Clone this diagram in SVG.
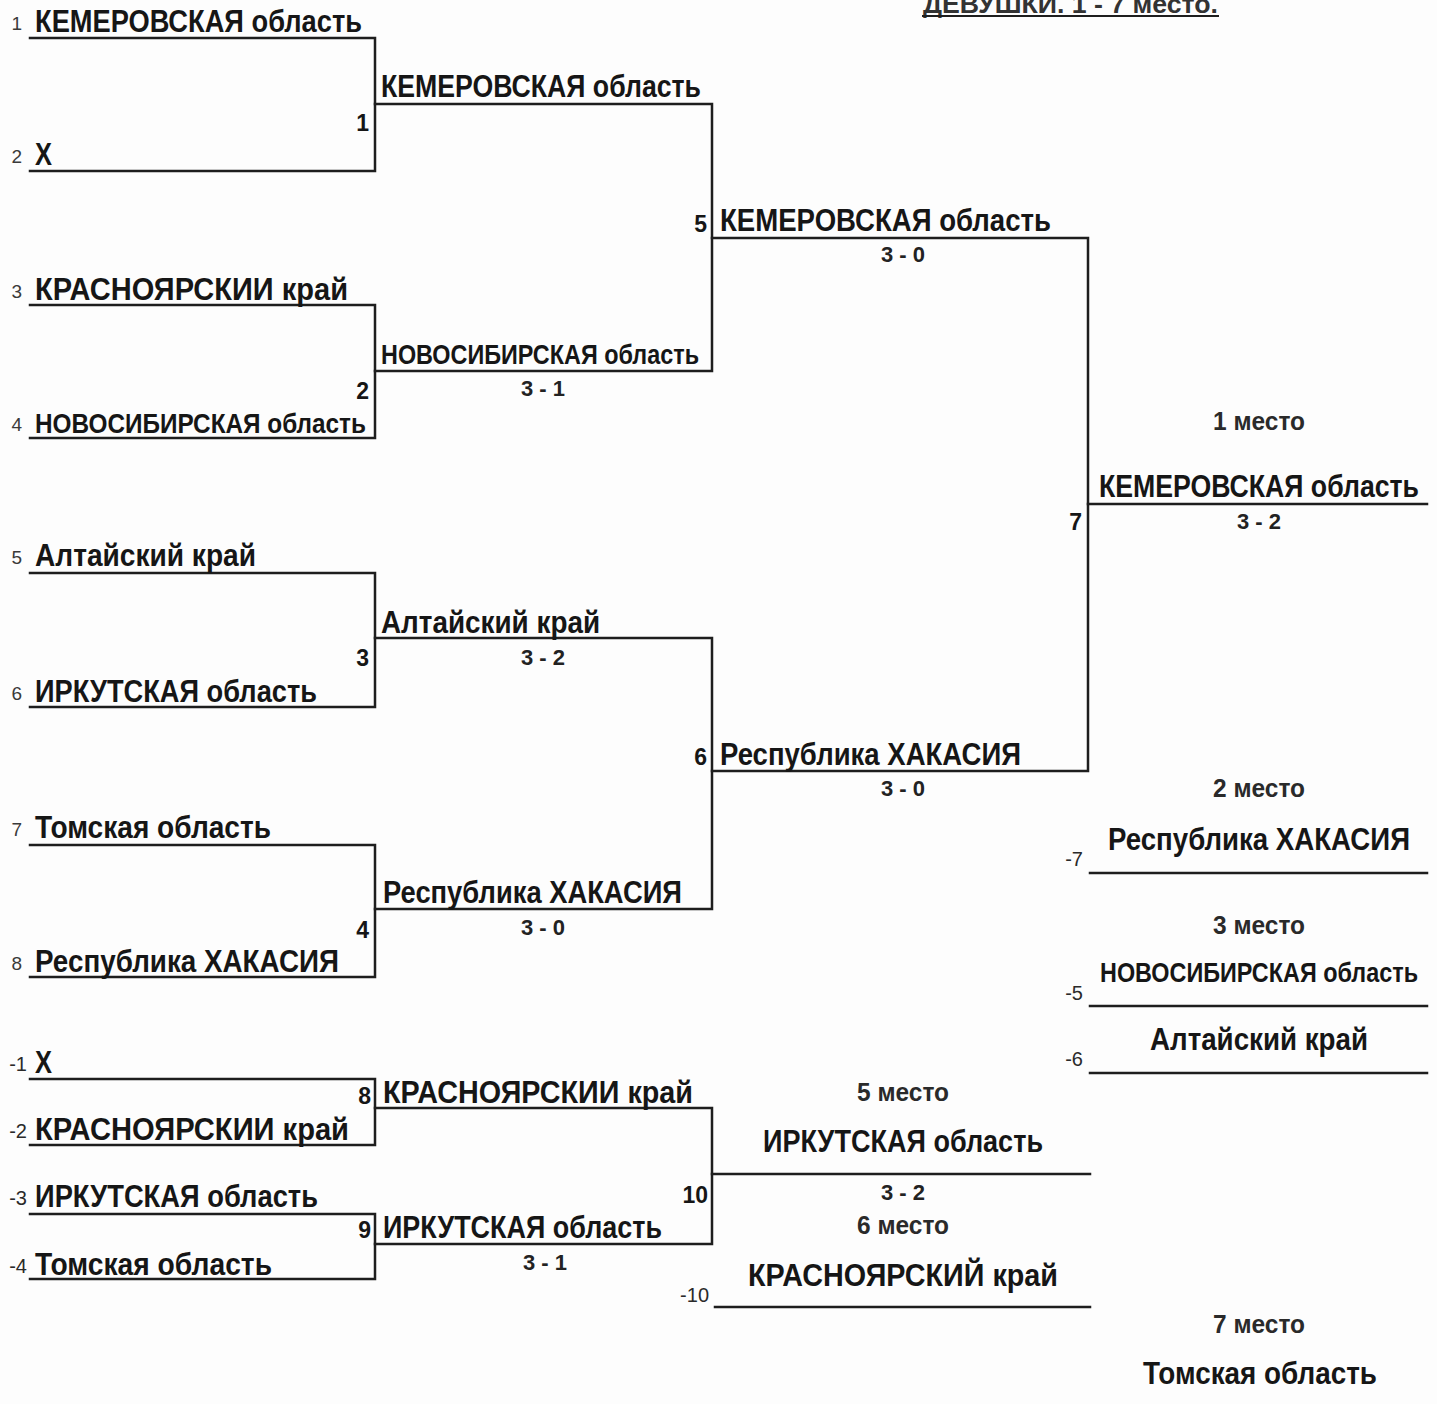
<svg xmlns="http://www.w3.org/2000/svg" width="1437" height="1404" viewBox="0 0 1437 1404">
<style>
.bg{fill:#fdfdfd}
.ln{stroke:#1e1e1e;stroke-width:2.5;fill:none;stroke-linecap:square}
.t{font-family:"Liberation Sans",Arial,sans-serif;font-weight:bold;font-size:31px;fill:#161616}
.ts{font-family:"Liberation Sans",Arial,sans-serif;font-weight:bold;font-size:28px;fill:#161616}
.seed{font-family:"Liberation Sans",Arial,sans-serif;font-size:19px;fill:#3a3a3a;text-anchor:end}
.neg{font-family:"Liberation Sans",Arial,sans-serif;font-size:20px;fill:#2a2a2a;text-anchor:end}
.m{font-family:"Liberation Sans",Arial,sans-serif;font-weight:bold;font-size:23px;fill:#161616;text-anchor:end}
.sc{font-family:"Liberation Sans",Arial,sans-serif;font-weight:bold;font-size:22px;fill:#222;text-anchor:middle}
.pl{font-family:"Liberation Sans",Arial,sans-serif;font-weight:bold;font-size:26px;fill:#2a2a2a;text-anchor:middle}
.title{font-family:"Liberation Sans",Arial,sans-serif;font-weight:bold;font-size:25px;fill:#333}
</style>
<rect class="bg" x="0" y="0" width="1437" height="1404"/>

<g id="title">
<text class="title" x="923" y="13" textLength="295" lengthAdjust="spacingAndGlyphs">ДЕВУШКИ. 1 - 7 место.</text>
<line class="ln" x1="923" y1="16" x2="1218" y2="16" style="stroke-width:2"/>
</g>

<g id="connectors">
<polyline class="ln" points="30,38 375,38 375,171 30,171"/>
<polyline class="ln" points="30,305 375,305 375,438 30,438"/>
<polyline class="ln" points="30,573 375,573 375,707 30,707"/>
<polyline class="ln" points="30,845 375,845 375,977 30,977"/>
<polyline class="ln" points="375,104 712,104 712,371 375,371"/>
<polyline class="ln" points="375,638 712,638 712,909 375,909"/>
<polyline class="ln" points="712,238 1088,238 1088,771 712,771"/>
<line class="ln" x1="1088" y1="504" x2="1427" y2="504"/>
<line class="ln" x1="1090" y1="873" x2="1427" y2="873"/>
<line class="ln" x1="1090" y1="1006" x2="1427" y2="1006"/>
<line class="ln" x1="1090" y1="1073" x2="1427" y2="1073"/>
<polyline class="ln" points="30,1079 375,1079 375,1145 30,1145"/>
<polyline class="ln" points="30,1214 375,1214 375,1279 30,1279"/>
<polyline class="ln" points="375,1108 712,1108 712,1244 375,1244"/>
<line class="ln" x1="712" y1="1174" x2="1090" y2="1174"/>
<line class="ln" x1="715" y1="1307" x2="1090" y2="1307"/>
</g>

<g id="r1">
<text class="seed" x="22" y="30">1</text><text class="t" x="35" y="32" textLength="327" lengthAdjust="spacingAndGlyphs">КЕМЕРОВСКАЯ область</text>
<text class="seed" x="22" y="163">2</text><text class="t" x="35" y="165" textLength="17" lengthAdjust="spacingAndGlyphs">X</text>
<text class="seed" x="22" y="298">3</text><text class="t" x="35" y="300" textLength="313" lengthAdjust="spacingAndGlyphs">КРАСНОЯРСКИИ край</text>
<text class="seed" x="22" y="431">4</text><text class="ts" x="35" y="433" textLength="331" lengthAdjust="spacingAndGlyphs">НОВОСИБИРСКАЯ область</text>
<text class="seed" x="22" y="564">5</text><text class="t" x="35" y="566" textLength="221" lengthAdjust="spacingAndGlyphs">Алтайский край</text>
<text class="seed" x="22" y="700">6</text><text class="t" x="35" y="702" textLength="282" lengthAdjust="spacingAndGlyphs">ИРКУТСКАЯ область</text>
<text class="seed" x="22" y="836">7</text><text class="t" x="35" y="838" textLength="236" lengthAdjust="spacingAndGlyphs">Томская область</text>
<text class="seed" x="22" y="970">8</text><text class="t" x="35" y="972" textLength="304" lengthAdjust="spacingAndGlyphs">Республика ХАКАСИЯ</text>
</g>

<g id="r2">
<text class="m" x="369" y="131">1</text>
<text class="t" x="381" y="97" textLength="320" lengthAdjust="spacingAndGlyphs">КЕМЕРОВСКАЯ область</text>
<text class="m" x="369" y="399">2</text>
<text class="ts" x="381" y="364" textLength="318" lengthAdjust="spacingAndGlyphs">НОВОСИБИРСКАЯ область</text>
<text class="sc" x="543" y="396" textLength="44" lengthAdjust="spacingAndGlyphs">3 - 1</text>
<text class="m" x="369" y="666">3</text>
<text class="t" x="381" y="633" textLength="219" lengthAdjust="spacingAndGlyphs">Алтайский край</text>
<text class="sc" x="543" y="665" textLength="44" lengthAdjust="spacingAndGlyphs">3 - 2</text>
<text class="m" x="369" y="938">4</text>
<text class="t" x="383" y="903" textLength="299" lengthAdjust="spacingAndGlyphs">Республика ХАКАСИЯ</text>
<text class="sc" x="543" y="935" textLength="44" lengthAdjust="spacingAndGlyphs">3 - 0</text>
</g>

<g id="r3">
<text class="m" x="707" y="232">5</text>
<text class="t" x="720" y="231" textLength="331" lengthAdjust="spacingAndGlyphs">КЕМЕРОВСКАЯ область</text>
<text class="sc" x="903" y="262" textLength="44" lengthAdjust="spacingAndGlyphs">3 - 0</text>
<text class="m" x="707" y="765">6</text>
<text class="t" x="720" y="765" textLength="301" lengthAdjust="spacingAndGlyphs">Республика ХАКАСИЯ</text>
<text class="sc" x="903" y="796" textLength="44" lengthAdjust="spacingAndGlyphs">3 - 0</text>
</g>

<g id="final">
<text class="pl" x="1259" y="430" textLength="92" lengthAdjust="spacingAndGlyphs">1 место</text>
<text class="m" x="1082" y="530">7</text>
<text class="t" x="1099" y="497" textLength="320" lengthAdjust="spacingAndGlyphs">КЕМЕРОВСКАЯ область</text>
<text class="sc" x="1259" y="529" textLength="44" lengthAdjust="spacingAndGlyphs">3 - 2</text>
</g>

<g id="places">
<text class="pl" x="1259" y="797" textLength="92" lengthAdjust="spacingAndGlyphs">2 место</text>
<text class="neg" x="1083" y="866">-7</text>
<text class="t" x="1108" y="850" textLength="302" lengthAdjust="spacingAndGlyphs">Республика ХАКАСИЯ</text>
<text class="pl" x="1259" y="934" textLength="92" lengthAdjust="spacingAndGlyphs">3 место</text>
<text class="neg" x="1083" y="1000">-5</text>
<text class="ts" x="1100" y="982" textLength="318" lengthAdjust="spacingAndGlyphs">НОВОСИБИРСКАЯ область</text>
<text class="neg" x="1083" y="1066">-6</text>
<text class="t" x="1150" y="1050" textLength="218" lengthAdjust="spacingAndGlyphs">Алтайский край</text>
<text class="pl" x="1259" y="1333" textLength="92" lengthAdjust="spacingAndGlyphs">7 место</text>
<text class="t" x="1143" y="1384" textLength="234" lengthAdjust="spacingAndGlyphs">Томская область</text>
</g>

<g id="lower">
<text class="neg" x="27" y="1071">-1</text><text class="t" x="35" y="1073" textLength="17" lengthAdjust="spacingAndGlyphs">X</text>
<text class="neg" x="27" y="1138">-2</text><text class="t" x="35" y="1140" textLength="314" lengthAdjust="spacingAndGlyphs">КРАСНОЯРСКИИ край</text>
<text class="neg" x="27" y="1205">-3</text><text class="t" x="35" y="1207" textLength="283" lengthAdjust="spacingAndGlyphs">ИРКУТСКАЯ область</text>
<text class="neg" x="27" y="1273">-4</text><text class="t" x="35" y="1275" textLength="237" lengthAdjust="spacingAndGlyphs">Томская область</text>
<text class="m" x="371" y="1104">8</text>
<text class="t" x="383" y="1103" textLength="310" lengthAdjust="spacingAndGlyphs">КРАСНОЯРСКИИ край</text>
<text class="m" x="371" y="1238">9</text>
<text class="t" x="383" y="1238" textLength="279" lengthAdjust="spacingAndGlyphs">ИРКУТСКАЯ область</text>
<text class="sc" x="545" y="1270" textLength="44" lengthAdjust="spacingAndGlyphs">3 - 1</text>
<text class="m" x="708" y="1203">10</text>
<text class="pl" x="903" y="1101" textLength="92" lengthAdjust="spacingAndGlyphs">5 место</text>
<text class="t" x="763" y="1152" textLength="280" lengthAdjust="spacingAndGlyphs">ИРКУТСКАЯ область</text>
<text class="sc" x="903" y="1200" textLength="44" lengthAdjust="spacingAndGlyphs">3 - 2</text>
<text class="pl" x="903" y="1234" textLength="92" lengthAdjust="spacingAndGlyphs">6 место</text>
<text class="neg" x="709" y="1302">-10</text>
<text class="t" x="748" y="1286" textLength="310" lengthAdjust="spacingAndGlyphs">КРАСНОЯРСКИЙ край</text>
</g>
</svg>
